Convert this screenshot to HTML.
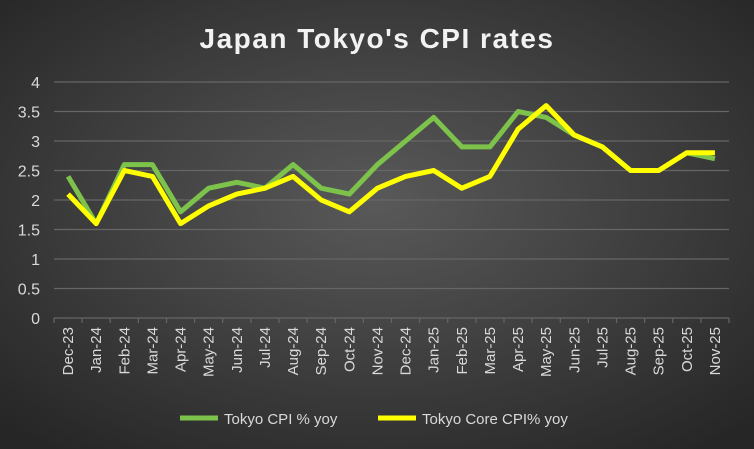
<!DOCTYPE html><html><head><style>body{margin:0}svg{display:block}</style></head><body>
<svg width="754" height="449" xmlns="http://www.w3.org/2000/svg" font-family="Liberation Sans, sans-serif">
<defs><radialGradient id="g" cx="50%" cy="45%" r="70%"><stop offset="0" stop-color="#595959"/><stop offset="1" stop-color="#262626"/></radialGradient></defs>
<rect width="754" height="449" fill="url(#g)"/>
<text x="377" y="48" text-anchor="middle" fill="#f2f2f2" font-size="28" font-weight="bold" letter-spacing="1.5">Japan Tokyo's CPI rates</text>
<g id="grid" stroke="#666" stroke-width="1.2"></g>
<g id="yl" fill="#d9d9d9" font-size="16" text-anchor="end"></g>
<g id="xl" fill="#d9d9d9" font-size="15"></g>
<polyline id="gr" fill="none" stroke="#7dc24b" stroke-width="5" stroke-linejoin="round"/>
<polyline id="ye" fill="none" stroke="#ffff00" stroke-width="5" stroke-linejoin="round"/>
<line x1="180" y1="418" x2="218" y2="418" stroke="#7dc24b" stroke-width="5"/>
<text x="224" y="424" fill="#d9d9d9" font-size="15">Tokyo CPI % yoy</text>
<line x1="378" y1="418" x2="416" y2="418" stroke="#ffff00" stroke-width="5"/>
<text x="422" y="424" fill="#d9d9d9" font-size="15">Tokyo Core CPI% yoy</text>
<script>
const ns="http://www.w3.org/2000/svg";
const L=54,R=729,T=82,B=318,n=24,w=(R-L)/n;
const Y=v=>B-(B-T)*v/4,X=i=>L+w*(i+0.5);
const grid=document.getElementById('grid'),yl=document.getElementById('yl'),xl=document.getElementById('xl');
function el(p,t,a,txt){const e=document.createElementNS(ns,t);for(const k in a)e.setAttribute(k,a[k]);if(txt)e.textContent=txt;p.appendChild(e);}
for(let k=0;k<=8;k++){const v=k/2,y=Y(v);el(grid,'line',{x1:L,x2:R,y1:y,y2:y});el(yl,'text',{x:40,y:y+6},String(v));}
for(let i=0;i<=n;i++){const x=L+w*i;el(grid,'line',{x1:x,x2:x,y1:B,y2:B+5});}
const m=["Dec-23","Jan-24","Feb-24","Mar-24","Apr-24","May-24","Jun-24","Jul-24","Aug-24","Sep-24","Oct-24","Nov-24","Dec-24","Jan-25","Feb-25","Mar-25","Apr-25","May-25","Jun-25","Jul-25","Aug-25","Sep-25","Oct-25","Nov-25"];
m.forEach((s,i)=>{const x=X(i)+5,y=327;el(xl,'text',{x:x,y:y,transform:`rotate(-90 ${x} ${y})`,'text-anchor':'end'},s);});
const g=[2.4,1.6,2.6,2.6,1.8,2.2,2.3,2.2,2.6,2.2,2.1,2.6,3.0,3.4,2.9,2.9,3.5,3.4,3.1,2.9,2.5,2.5,2.8,2.7];
const y=[2.1,1.6,2.5,2.4,1.6,1.9,2.1,2.2,2.4,2.0,1.8,2.2,2.4,2.5,2.2,2.4,3.2,3.6,3.1,2.9,2.5,2.5,2.8,2.8];
document.getElementById('gr').setAttribute('points',g.map((v,i)=>X(i)+','+Y(v)).join(' '));
document.getElementById('ye').setAttribute('points',y.map((v,i)=>X(i)+','+Y(v)).join(' '));
</script>
</svg></body></html>
